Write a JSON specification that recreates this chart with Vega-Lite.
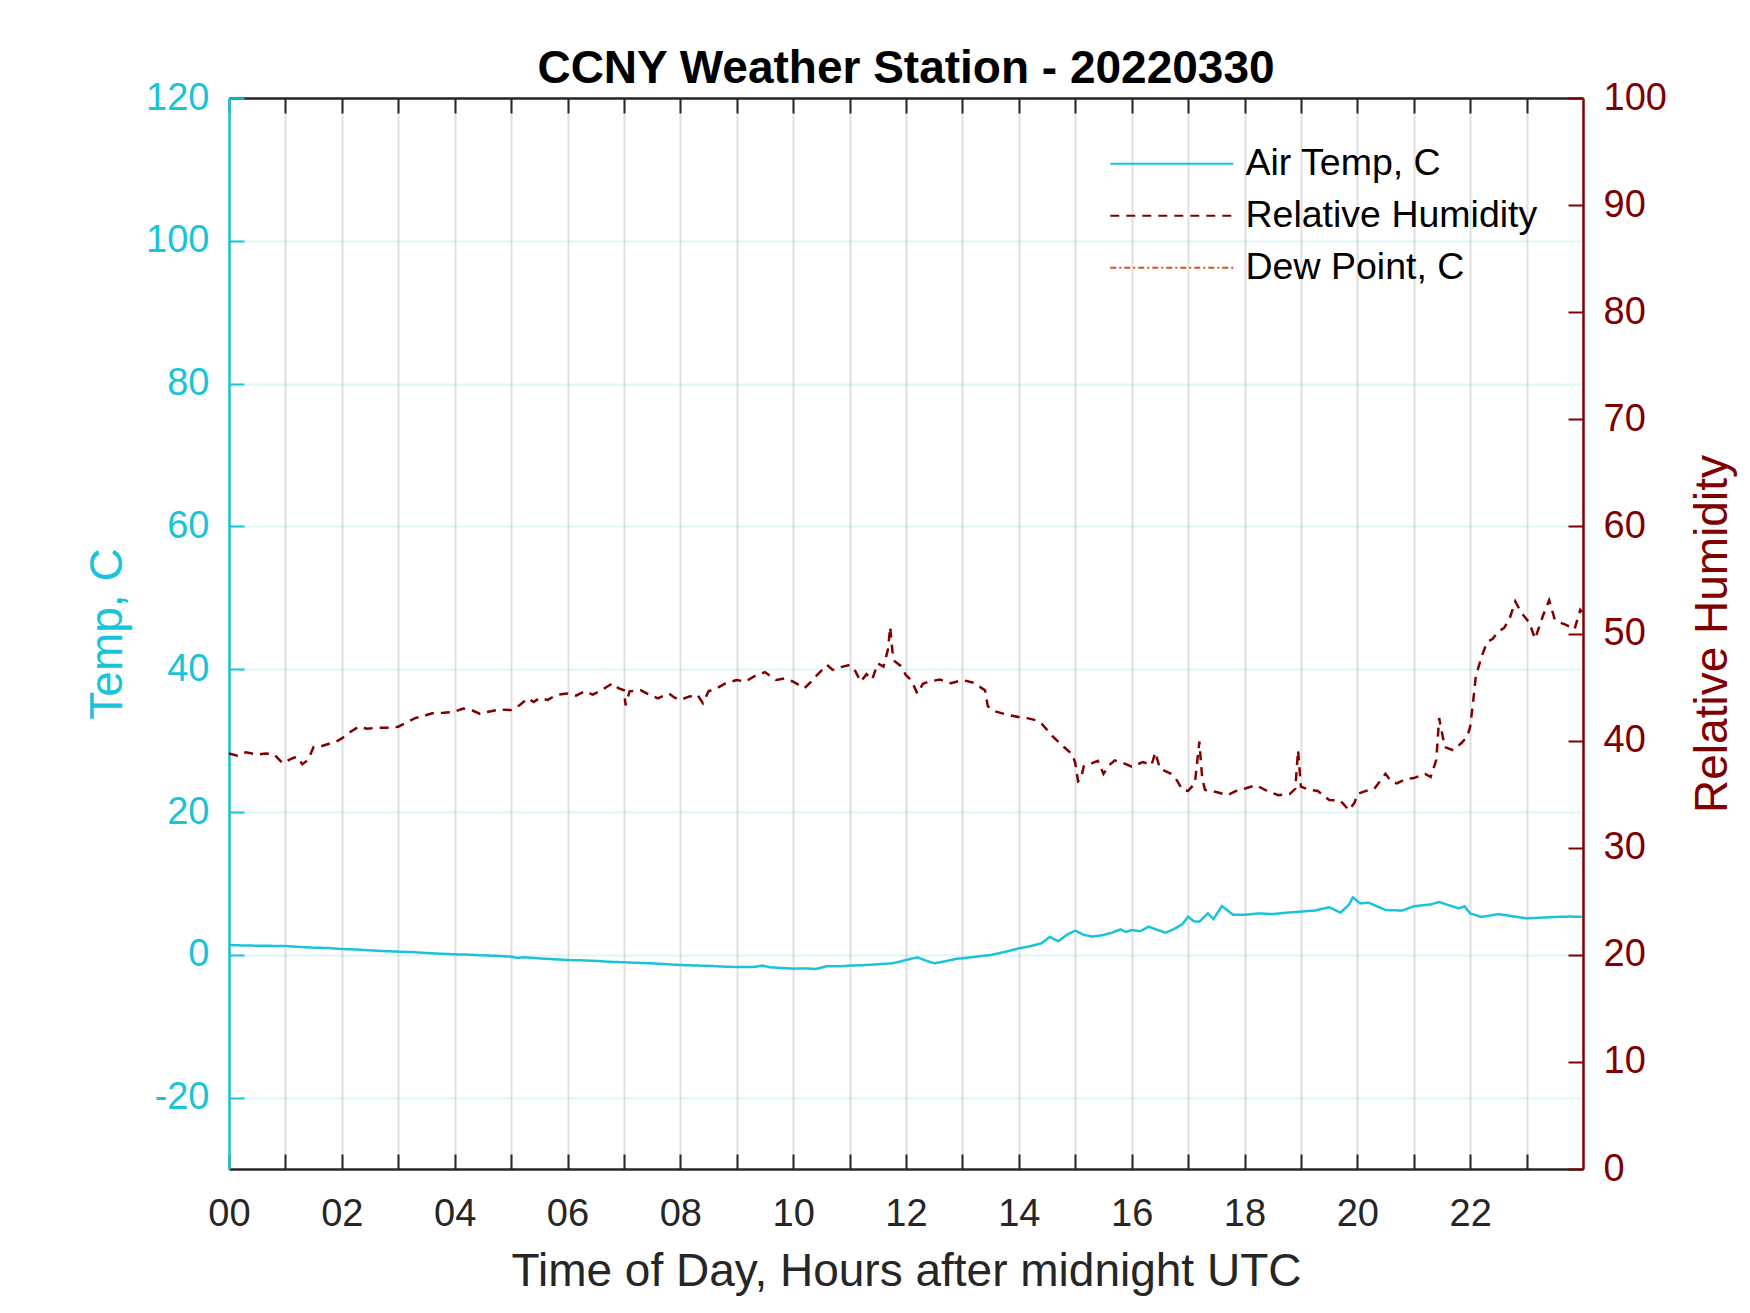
{
  "$schema": "https://vega.github.io/schema/vega-lite/v6.json",
  "autosize": {"type": "none"},
  "width": 1354,
  "height": 1071,
  "padding": {"left": 229, "top": 98, "right": 167, "bottom": 144},
  "background": "white",
  "title": {"text": "CCNY Weather Station - 20220330", "font": "Liberation Sans", "fontSize": 46, "fontWeight": "bold", "color": "#000000", "anchor": "middle", "offset": -14},
  "config": {
    "view": {"stroke": null},
    "font": "Liberation Sans",
    "axis": {"labelFont": "Liberation Sans", "titleFont": "Liberation Sans", "titleFontWeight": "normal", "labelFontSize": 38, "titleFontSize": 46, "labelFlush": false, "labelOverlap": false, "tickSize": -15, "tickWidth": 2, "domainWidth": 2.5},
    "legend": {"orient": "none", "legendX": 924, "legendY": 47, "padding": 0, "labelFont": "Liberation Sans", "labelFontSize": 37.5, "labelColor": "#000000", "labelOffset": 55, "labelLimit": 0, "rowPadding": 13, "symbolSize": 400, "symbolStrokeWidth": 2, "strokeColor": null, "fillColor": null}
  },
  "data": {"values": [
    {"series": "Air Temp, C", "hour": 0, "value": 1.37},
    {"series": "Air Temp, C", "hour": 0.25, "value": 1.3},
    {"series": "Air Temp, C", "hour": 0.5, "value": 1.28},
    {"series": "Air Temp, C", "hour": 0.75, "value": 1.25},
    {"series": "Air Temp, C", "hour": 1, "value": 1.23},
    {"series": "Air Temp, C", "hour": 1.25, "value": 1.1},
    {"series": "Air Temp, C", "hour": 1.5, "value": 1.0},
    {"series": "Air Temp, C", "hour": 1.75, "value": 0.95},
    {"series": "Air Temp, C", "hour": 2, "value": 0.81},
    {"series": "Air Temp, C", "hour": 2.25, "value": 0.75},
    {"series": "Air Temp, C", "hour": 2.5, "value": 0.62},
    {"series": "Air Temp, C", "hour": 2.75, "value": 0.52},
    {"series": "Air Temp, C", "hour": 3, "value": 0.44},
    {"series": "Air Temp, C", "hour": 3.25, "value": 0.38},
    {"series": "Air Temp, C", "hour": 3.5, "value": 0.25},
    {"series": "Air Temp, C", "hour": 3.75, "value": 0.15},
    {"series": "Air Temp, C", "hour": 4, "value": 0.07},
    {"series": "Air Temp, C", "hour": 4.25, "value": 0.02},
    {"series": "Air Temp, C", "hour": 4.5, "value": -0.08},
    {"series": "Air Temp, C", "hour": 4.75, "value": -0.15},
    {"series": "Air Temp, C", "hour": 5, "value": -0.26},
    {"series": "Air Temp, C", "hour": 5.1, "value": -0.42},
    {"series": "Air Temp, C", "hour": 5.25, "value": -0.35},
    {"series": "Air Temp, C", "hour": 5.5, "value": -0.5},
    {"series": "Air Temp, C", "hour": 5.75, "value": -0.62},
    {"series": "Air Temp, C", "hour": 6, "value": -0.73},
    {"series": "Air Temp, C", "hour": 6.25, "value": -0.78},
    {"series": "Air Temp, C", "hour": 6.5, "value": -0.85},
    {"series": "Air Temp, C", "hour": 6.75, "value": -0.98},
    {"series": "Air Temp, C", "hour": 7, "value": -1.05},
    {"series": "Air Temp, C", "hour": 7.25, "value": -1.12},
    {"series": "Air Temp, C", "hour": 7.5, "value": -1.2},
    {"series": "Air Temp, C", "hour": 7.75, "value": -1.32},
    {"series": "Air Temp, C", "hour": 8, "value": -1.43},
    {"series": "Air Temp, C", "hour": 8.25, "value": -1.5},
    {"series": "Air Temp, C", "hour": 8.5, "value": -1.55},
    {"series": "Air Temp, C", "hour": 8.75, "value": -1.65},
    {"series": "Air Temp, C", "hour": 9, "value": -1.71},
    {"series": "Air Temp, C", "hour": 9.3, "value": -1.72},
    {"series": "Air Temp, C", "hour": 9.45, "value": -1.5},
    {"series": "Air Temp, C", "hour": 9.6, "value": -1.76},
    {"series": "Air Temp, C", "hour": 9.8, "value": -1.85},
    {"series": "Air Temp, C", "hour": 10, "value": -1.94},
    {"series": "Air Temp, C", "hour": 10.2, "value": -1.9},
    {"series": "Air Temp, C", "hour": 10.4, "value": -1.99},
    {"series": "Air Temp, C", "hour": 10.6, "value": -1.6},
    {"series": "Air Temp, C", "hour": 10.8, "value": -1.62},
    {"series": "Air Temp, C", "hour": 11, "value": -1.52},
    {"series": "Air Temp, C", "hour": 11.25, "value": -1.45},
    {"series": "Air Temp, C", "hour": 11.5, "value": -1.33},
    {"series": "Air Temp, C", "hour": 11.75, "value": -1.2},
    {"series": "Air Temp, C", "hour": 11.9, "value": -0.95},
    {"series": "Air Temp, C", "hour": 12, "value": -0.73},
    {"series": "Air Temp, C", "hour": 12.2, "value": -0.35},
    {"series": "Air Temp, C", "hour": 12.35, "value": -0.8},
    {"series": "Air Temp, C", "hour": 12.5, "value": -1.19},
    {"series": "Air Temp, C", "hour": 12.7, "value": -0.9},
    {"series": "Air Temp, C", "hour": 12.9, "value": -0.55},
    {"series": "Air Temp, C", "hour": 13, "value": -0.49},
    {"series": "Air Temp, C", "hour": 13.2, "value": -0.3},
    {"series": "Air Temp, C", "hour": 13.5, "value": -0.03},
    {"series": "Air Temp, C", "hour": 13.75, "value": 0.4},
    {"series": "Air Temp, C", "hour": 14, "value": 0.9},
    {"series": "Air Temp, C", "hour": 14.2, "value": 1.2},
    {"series": "Air Temp, C", "hour": 14.4, "value": 1.6},
    {"series": "Air Temp, C", "hour": 14.55, "value": 2.5},
    {"series": "Air Temp, C", "hour": 14.7, "value": 1.9},
    {"series": "Air Temp, C", "hour": 14.85, "value": 2.8},
    {"series": "Air Temp, C", "hour": 15, "value": 3.38},
    {"series": "Air Temp, C", "hour": 15.15, "value": 2.8},
    {"series": "Air Temp, C", "hour": 15.3, "value": 2.54},
    {"series": "Air Temp, C", "hour": 15.5, "value": 2.77},
    {"series": "Air Temp, C", "hour": 15.65, "value": 3.1},
    {"series": "Air Temp, C", "hour": 15.8, "value": 3.56},
    {"series": "Air Temp, C", "hour": 15.9, "value": 3.2},
    {"series": "Air Temp, C", "hour": 16, "value": 3.47},
    {"series": "Air Temp, C", "hour": 16.15, "value": 3.3},
    {"series": "Air Temp, C", "hour": 16.3, "value": 3.94},
    {"series": "Air Temp, C", "hour": 16.45, "value": 3.5},
    {"series": "Air Temp, C", "hour": 16.6, "value": 3.1},
    {"series": "Air Temp, C", "hour": 16.75, "value": 3.6},
    {"series": "Air Temp, C", "hour": 16.9, "value": 4.3},
    {"series": "Air Temp, C", "hour": 17, "value": 5.34},
    {"series": "Air Temp, C", "hour": 17.1, "value": 4.7},
    {"series": "Air Temp, C", "hour": 17.2, "value": 4.64},
    {"series": "Air Temp, C", "hour": 17.35, "value": 5.8},
    {"series": "Air Temp, C", "hour": 17.45, "value": 5.0},
    {"series": "Air Temp, C", "hour": 17.6, "value": 6.83},
    {"series": "Air Temp, C", "hour": 17.7, "value": 6.2},
    {"series": "Air Temp, C", "hour": 17.8, "value": 5.6},
    {"series": "Air Temp, C", "hour": 18, "value": 5.6},
    {"series": "Air Temp, C", "hour": 18.25, "value": 5.8},
    {"series": "Air Temp, C", "hour": 18.5, "value": 5.7},
    {"series": "Air Temp, C", "hour": 18.75, "value": 5.9},
    {"series": "Air Temp, C", "hour": 19, "value": 6.05},
    {"series": "Air Temp, C", "hour": 19.25, "value": 6.2},
    {"series": "Air Temp, C", "hour": 19.5, "value": 6.66},
    {"series": "Air Temp, C", "hour": 19.7, "value": 5.9},
    {"series": "Air Temp, C", "hour": 19.85, "value": 7.0},
    {"series": "Air Temp, C", "hour": 19.92, "value": 8.05},
    {"series": "Air Temp, C", "hour": 20.05, "value": 7.2},
    {"series": "Air Temp, C", "hour": 20.2, "value": 7.3},
    {"series": "Air Temp, C", "hour": 20.5, "value": 6.27},
    {"series": "Air Temp, C", "hour": 20.8, "value": 6.2},
    {"series": "Air Temp, C", "hour": 21, "value": 6.8},
    {"series": "Air Temp, C", "hour": 21.3, "value": 7.05},
    {"series": "Air Temp, C", "hour": 21.45, "value": 7.4},
    {"series": "Air Temp, C", "hour": 21.6, "value": 7.0},
    {"series": "Air Temp, C", "hour": 21.8, "value": 6.5},
    {"series": "Air Temp, C", "hour": 21.9, "value": 6.8},
    {"series": "Air Temp, C", "hour": 22, "value": 5.8},
    {"series": "Air Temp, C", "hour": 22.2, "value": 5.3},
    {"series": "Air Temp, C", "hour": 22.5, "value": 5.7},
    {"series": "Air Temp, C", "hour": 22.75, "value": 5.4},
    {"series": "Air Temp, C", "hour": 23, "value": 5.1},
    {"series": "Air Temp, C", "hour": 23.25, "value": 5.2},
    {"series": "Air Temp, C", "hour": 23.5, "value": 5.3},
    {"series": "Air Temp, C", "hour": 23.75, "value": 5.35},
    {"series": "Air Temp, C", "hour": 23.98, "value": 5.34},
    {"series": "Relative Humidity", "hour": 0, "value": 38.8},
    {"series": "Relative Humidity", "hour": 0.15, "value": 38.6},
    {"series": "Relative Humidity", "hour": 0.3, "value": 38.9},
    {"series": "Relative Humidity", "hour": 0.5, "value": 38.7},
    {"series": "Relative Humidity", "hour": 0.65, "value": 38.8},
    {"series": "Relative Humidity", "hour": 0.8, "value": 38.7},
    {"series": "Relative Humidity", "hour": 0.95, "value": 37.9},
    {"series": "Relative Humidity", "hour": 1.1, "value": 38.3},
    {"series": "Relative Humidity", "hour": 1.2, "value": 38.5},
    {"series": "Relative Humidity", "hour": 1.3, "value": 37.8},
    {"series": "Relative Humidity", "hour": 1.4, "value": 38.2},
    {"series": "Relative Humidity", "hour": 1.5, "value": 39.4},
    {"series": "Relative Humidity", "hour": 1.65, "value": 39.5},
    {"series": "Relative Humidity", "hour": 1.8, "value": 39.75},
    {"series": "Relative Humidity", "hour": 1.9, "value": 39.9},
    {"series": "Relative Humidity", "hour": 2.0, "value": 40.2},
    {"series": "Relative Humidity", "hour": 2.15, "value": 40.8},
    {"series": "Relative Humidity", "hour": 2.3, "value": 41.3},
    {"series": "Relative Humidity", "hour": 2.45, "value": 41.1},
    {"series": "Relative Humidity", "hour": 2.6, "value": 41.2},
    {"series": "Relative Humidity", "hour": 2.8, "value": 41.2},
    {"series": "Relative Humidity", "hour": 3.0, "value": 41.3},
    {"series": "Relative Humidity", "hour": 3.15, "value": 41.7},
    {"series": "Relative Humidity", "hour": 3.3, "value": 42.1},
    {"series": "Relative Humidity", "hour": 3.45, "value": 42.3},
    {"series": "Relative Humidity", "hour": 3.6, "value": 42.55},
    {"series": "Relative Humidity", "hour": 3.8, "value": 42.6},
    {"series": "Relative Humidity", "hour": 4.0, "value": 42.7},
    {"series": "Relative Humidity", "hour": 4.15, "value": 43.0},
    {"series": "Relative Humidity", "hour": 4.3, "value": 42.85},
    {"series": "Relative Humidity", "hour": 4.45, "value": 42.5},
    {"series": "Relative Humidity", "hour": 4.6, "value": 42.7},
    {"series": "Relative Humidity", "hour": 4.8, "value": 42.9},
    {"series": "Relative Humidity", "hour": 5.0, "value": 42.85},
    {"series": "Relative Humidity", "hour": 5.15, "value": 43.3},
    {"series": "Relative Humidity", "hour": 5.3, "value": 43.95},
    {"series": "Relative Humidity", "hour": 5.4, "value": 43.6},
    {"series": "Relative Humidity", "hour": 5.5, "value": 43.95},
    {"series": "Relative Humidity", "hour": 5.65, "value": 43.8},
    {"series": "Relative Humidity", "hour": 5.8, "value": 44.26},
    {"series": "Relative Humidity", "hour": 6.0, "value": 44.4},
    {"series": "Relative Humidity", "hour": 6.15, "value": 44.2},
    {"series": "Relative Humidity", "hour": 6.3, "value": 44.6},
    {"series": "Relative Humidity", "hour": 6.45, "value": 44.3},
    {"series": "Relative Humidity", "hour": 6.6, "value": 44.7},
    {"series": "Relative Humidity", "hour": 6.8, "value": 45.35},
    {"series": "Relative Humidity", "hour": 6.9, "value": 44.9},
    {"series": "Relative Humidity", "hour": 7.0, "value": 44.7},
    {"series": "Relative Humidity", "hour": 7.03, "value": 43.3},
    {"series": "Relative Humidity", "hour": 7.1, "value": 44.6},
    {"series": "Relative Humidity", "hour": 7.3, "value": 44.7},
    {"series": "Relative Humidity", "hour": 7.45, "value": 44.3},
    {"series": "Relative Humidity", "hour": 7.6, "value": 43.95},
    {"series": "Relative Humidity", "hour": 7.8, "value": 44.4},
    {"series": "Relative Humidity", "hour": 7.9, "value": 44.0},
    {"series": "Relative Humidity", "hour": 8.0, "value": 43.8},
    {"series": "Relative Humidity", "hour": 8.15, "value": 44.1},
    {"series": "Relative Humidity", "hour": 8.3, "value": 44.3},
    {"series": "Relative Humidity", "hour": 8.4, "value": 43.5},
    {"series": "Relative Humidity", "hour": 8.5, "value": 44.6},
    {"series": "Relative Humidity", "hour": 8.65, "value": 44.9},
    {"series": "Relative Humidity", "hour": 8.8, "value": 45.35},
    {"series": "Relative Humidity", "hour": 9.0, "value": 45.66},
    {"series": "Relative Humidity", "hour": 9.15, "value": 45.5},
    {"series": "Relative Humidity", "hour": 9.3, "value": 45.97},
    {"series": "Relative Humidity", "hour": 9.5, "value": 46.4},
    {"series": "Relative Humidity", "hour": 9.6, "value": 46.0},
    {"series": "Relative Humidity", "hour": 9.7, "value": 45.66},
    {"series": "Relative Humidity", "hour": 9.85, "value": 45.8},
    {"series": "Relative Humidity", "hour": 10.0, "value": 45.5},
    {"series": "Relative Humidity", "hour": 10.2, "value": 44.9},
    {"series": "Relative Humidity", "hour": 10.3, "value": 45.4},
    {"series": "Relative Humidity", "hour": 10.4, "value": 46.0},
    {"series": "Relative Humidity", "hour": 10.6, "value": 47.06},
    {"series": "Relative Humidity", "hour": 10.7, "value": 46.6},
    {"series": "Relative Humidity", "hour": 10.8, "value": 46.8},
    {"series": "Relative Humidity", "hour": 11.0, "value": 47.06},
    {"series": "Relative Humidity", "hour": 11.1, "value": 46.5},
    {"series": "Relative Humidity", "hour": 11.2, "value": 45.5},
    {"series": "Relative Humidity", "hour": 11.3, "value": 46.2},
    {"series": "Relative Humidity", "hour": 11.4, "value": 45.7},
    {"series": "Relative Humidity", "hour": 11.5, "value": 47.2},
    {"series": "Relative Humidity", "hour": 11.6, "value": 46.9},
    {"series": "Relative Humidity", "hour": 11.68, "value": 48.5},
    {"series": "Relative Humidity", "hour": 11.72, "value": 50.6},
    {"series": "Relative Humidity", "hour": 11.76, "value": 48.3},
    {"series": "Relative Humidity", "hour": 11.8, "value": 47.4},
    {"series": "Relative Humidity", "hour": 11.9, "value": 47.0},
    {"series": "Relative Humidity", "hour": 12.0, "value": 46.1},
    {"series": "Relative Humidity", "hour": 12.1, "value": 45.6},
    {"series": "Relative Humidity", "hour": 12.2, "value": 44.4},
    {"series": "Relative Humidity", "hour": 12.3, "value": 45.3},
    {"series": "Relative Humidity", "hour": 12.4, "value": 45.5},
    {"series": "Relative Humidity", "hour": 12.6, "value": 45.7},
    {"series": "Relative Humidity", "hour": 12.8, "value": 45.35},
    {"series": "Relative Humidity", "hour": 13.0, "value": 45.66},
    {"series": "Relative Humidity", "hour": 13.2, "value": 45.4},
    {"series": "Relative Humidity", "hour": 13.4, "value": 44.7},
    {"series": "Relative Humidity", "hour": 13.45, "value": 43.2},
    {"series": "Relative Humidity", "hour": 13.6, "value": 42.7},
    {"series": "Relative Humidity", "hour": 13.8, "value": 42.4},
    {"series": "Relative Humidity", "hour": 14.0, "value": 42.2},
    {"series": "Relative Humidity", "hour": 14.15, "value": 42.1},
    {"series": "Relative Humidity", "hour": 14.3, "value": 41.9},
    {"series": "Relative Humidity", "hour": 14.4, "value": 41.6},
    {"series": "Relative Humidity", "hour": 14.5, "value": 41.0},
    {"series": "Relative Humidity", "hour": 14.6, "value": 40.4},
    {"series": "Relative Humidity", "hour": 14.8, "value": 39.4},
    {"series": "Relative Humidity", "hour": 14.95, "value": 38.7},
    {"series": "Relative Humidity", "hour": 15.0, "value": 37.9},
    {"series": "Relative Humidity", "hour": 15.05, "value": 36.2},
    {"series": "Relative Humidity", "hour": 15.1, "value": 36.4},
    {"series": "Relative Humidity", "hour": 15.15, "value": 37.6},
    {"series": "Relative Humidity", "hour": 15.3, "value": 37.9},
    {"series": "Relative Humidity", "hour": 15.4, "value": 38.1},
    {"series": "Relative Humidity", "hour": 15.5, "value": 36.9},
    {"series": "Relative Humidity", "hour": 15.6, "value": 37.7},
    {"series": "Relative Humidity", "hour": 15.7, "value": 38.15},
    {"series": "Relative Humidity", "hour": 15.85, "value": 37.9},
    {"series": "Relative Humidity", "hour": 16.0, "value": 37.56},
    {"series": "Relative Humidity", "hour": 16.2, "value": 38.0},
    {"series": "Relative Humidity", "hour": 16.35, "value": 37.7},
    {"series": "Relative Humidity", "hour": 16.42, "value": 38.9},
    {"series": "Relative Humidity", "hour": 16.5, "value": 37.4},
    {"series": "Relative Humidity", "hour": 16.7, "value": 36.9},
    {"series": "Relative Humidity", "hour": 16.8, "value": 36.3},
    {"series": "Relative Humidity", "hour": 16.9, "value": 35.4},
    {"series": "Relative Humidity", "hour": 17.0, "value": 35.3},
    {"series": "Relative Humidity", "hour": 17.12, "value": 36.0},
    {"series": "Relative Humidity", "hour": 17.2, "value": 39.9},
    {"series": "Relative Humidity", "hour": 17.25, "value": 36.5},
    {"series": "Relative Humidity", "hour": 17.3, "value": 35.4},
    {"series": "Relative Humidity", "hour": 17.5, "value": 35.2},
    {"series": "Relative Humidity", "hour": 17.7, "value": 34.9},
    {"series": "Relative Humidity", "hour": 17.85, "value": 35.3},
    {"series": "Relative Humidity", "hour": 18.0, "value": 35.5},
    {"series": "Relative Humidity", "hour": 18.2, "value": 35.85},
    {"series": "Relative Humidity", "hour": 18.4, "value": 35.3},
    {"series": "Relative Humidity", "hour": 18.6, "value": 34.9},
    {"series": "Relative Humidity", "hour": 18.8, "value": 35.0},
    {"series": "Relative Humidity", "hour": 18.9, "value": 35.5},
    {"series": "Relative Humidity", "hour": 18.95, "value": 39.1},
    {"series": "Relative Humidity", "hour": 19.0, "value": 35.7},
    {"series": "Relative Humidity", "hour": 19.15, "value": 35.4},
    {"series": "Relative Humidity", "hour": 19.3, "value": 35.3},
    {"series": "Relative Humidity", "hour": 19.5, "value": 34.45},
    {"series": "Relative Humidity", "hour": 19.7, "value": 34.4},
    {"series": "Relative Humidity", "hour": 19.85, "value": 33.5},
    {"series": "Relative Humidity", "hour": 19.95, "value": 34.2},
    {"series": "Relative Humidity", "hour": 20.0, "value": 35.0},
    {"series": "Relative Humidity", "hour": 20.15, "value": 35.3},
    {"series": "Relative Humidity", "hour": 20.3, "value": 35.5},
    {"series": "Relative Humidity", "hour": 20.5, "value": 36.9},
    {"series": "Relative Humidity", "hour": 20.6, "value": 36.2},
    {"series": "Relative Humidity", "hour": 20.7, "value": 36.0},
    {"series": "Relative Humidity", "hour": 20.85, "value": 36.4},
    {"series": "Relative Humidity", "hour": 21.0, "value": 36.5},
    {"series": "Relative Humidity", "hour": 21.2, "value": 36.9},
    {"series": "Relative Humidity", "hour": 21.3, "value": 36.6},
    {"series": "Relative Humidity", "hour": 21.4, "value": 38.2},
    {"series": "Relative Humidity", "hour": 21.45, "value": 42.1},
    {"series": "Relative Humidity", "hour": 21.55, "value": 39.4},
    {"series": "Relative Humidity", "hour": 21.7, "value": 39.1},
    {"series": "Relative Humidity", "hour": 21.85, "value": 39.8},
    {"series": "Relative Humidity", "hour": 21.95, "value": 40.4},
    {"series": "Relative Humidity", "hour": 22.0, "value": 41.3},
    {"series": "Relative Humidity", "hour": 22.05, "value": 43.5},
    {"series": "Relative Humidity", "hour": 22.1, "value": 46.0},
    {"series": "Relative Humidity", "hour": 22.2, "value": 47.8},
    {"series": "Relative Humidity", "hour": 22.3, "value": 49.2},
    {"series": "Relative Humidity", "hour": 22.4, "value": 49.5},
    {"series": "Relative Humidity", "hour": 22.5, "value": 50.2},
    {"series": "Relative Humidity", "hour": 22.6, "value": 50.5},
    {"series": "Relative Humidity", "hour": 22.7, "value": 51.4},
    {"series": "Relative Humidity", "hour": 22.8, "value": 53.0},
    {"series": "Relative Humidity", "hour": 22.9, "value": 52.0},
    {"series": "Relative Humidity", "hour": 23.05, "value": 51.0},
    {"series": "Relative Humidity", "hour": 23.15, "value": 49.5},
    {"series": "Relative Humidity", "hour": 23.3, "value": 51.8},
    {"series": "Relative Humidity", "hour": 23.4, "value": 53.1},
    {"series": "Relative Humidity", "hour": 23.5, "value": 51.3},
    {"series": "Relative Humidity", "hour": 23.6, "value": 51.0},
    {"series": "Relative Humidity", "hour": 23.7, "value": 50.8},
    {"series": "Relative Humidity", "hour": 23.85, "value": 50.4},
    {"series": "Relative Humidity", "hour": 23.95, "value": 52.2},
    {"series": "Relative Humidity", "hour": 23.98, "value": 52.0}
  ]},
  "layer": [
    {
      "transform": [{"filter": "datum.series === 'Air Temp, C'"}],
      "mark": {"type": "line", "strokeWidth": 2.5},
      "encoding": {
        "x": {"field": "hour", "type": "quantitative", "scale": {"domain": [0, 24], "nice": false, "zero": false},
          "axis": {"orient": "bottom", "values": [0,1,2,3,4,5,6,7,8,9,10,11,12,13,14,15,16,17,18,19,20,21,22,23],
            "labelExpr": "datum.value % 2 === 0 ? (datum.value < 10 ? '0' + datum.value : '' + datum.value) : ''",
            "grid": true, "gridColor": "#262626", "gridOpacity": 0.15, "gridWidth": 2,
            "tickColor": "#262626", "domainColor": "#262626", "labelColor": "#262626", "labelPadding": 41,
            "title": "Time of Day, Hours after midnight UTC", "titleColor": "#262626", "titlePadding": 16}},
        "y": {"field": "value", "type": "quantitative", "scale": {"domain": [-30, 120], "nice": false, "zero": false},
          "axis": {"orient": "left", "values": [-20, 0, 20, 40, 60, 80, 100, 120], "labelExpr": "'' + datum.value",
            "grid": true, "gridColor": "#19C3DA", "gridOpacity": 0.15, "gridWidth": 2,
            "tickColor": "#19C3DA", "domainColor": "#19C3DA", "labelColor": "#19C3DA", "labelPadding": 35,
            "title": "Temp, C", "titleColor": "#19C3DA", "titlePadding": 14}},
        "color": {"field": "series", "type": "nominal",
          "scale": {"domain": ["Air Temp, C", "Relative Humidity", "Dew Point, C"], "range": ["#19C3DA", "#800000", "#D95319"]},
          "legend": {"title": null, "symbolType": "M-6.15,0H6.15"}},
        "strokeDash": {"field": "series", "type": "nominal",
          "scale": {"domain": ["Air Temp, C", "Relative Humidity", "Dew Point, C"], "range": [[1, 0], [9, 7], [6, 3, 2, 3]]},
          "legend": {"title": null, "symbolType": "M-6.15,0H6.15"}}
      }
    },
    {
      "transform": [{"filter": "datum.series === 'Relative Humidity'"}],
      "mark": {"type": "line", "strokeWidth": 2.5},
      "encoding": {
        "x": {"field": "hour", "type": "quantitative", "scale": {"domain": [0, 24], "nice": false, "zero": false},
          "axis": {"orient": "top", "values": [0,1,2,3,4,5,6,7,8,9,10,11,12,13,14,15,16,17,18,19,20,21,22,23],
            "labels": false, "grid": false, "tickColor": "#262626", "domainColor": "#262626", "title": null}},
        "y": {"field": "value", "type": "quantitative", "scale": {"domain": [0, 100], "nice": false, "zero": false},
          "axis": {"orient": "right", "values": [0, 10, 20, 30, 40, 50, 60, 70, 80, 90, 100],
            "grid": false, "tickColor": "#800000", "domainColor": "#800000", "labelColor": "#800000", "labelPadding": 35,
            "title": "Relative Humidity", "titleColor": "#800000", "titleAngle": 270, "titleBaseline": "top", "titlePadding": 24}},
        "color": {"field": "series", "type": "nominal",
          "scale": {"domain": ["Air Temp, C", "Relative Humidity", "Dew Point, C"], "range": ["#19C3DA", "#800000", "#D95319"]},
          "legend": {"title": null, "symbolType": "M-6.15,0H6.15"}},
        "strokeDash": {"field": "series", "type": "nominal",
          "scale": {"domain": ["Air Temp, C", "Relative Humidity", "Dew Point, C"], "range": [[1, 0], [9, 7], [6, 3, 2, 3]]},
          "legend": {"title": null, "symbolType": "M-6.15,0H6.15"}}
      }
    }
  ],
  "resolve": {"scale": {"y": "independent"}, "axis": {"x": "independent"}}
}
